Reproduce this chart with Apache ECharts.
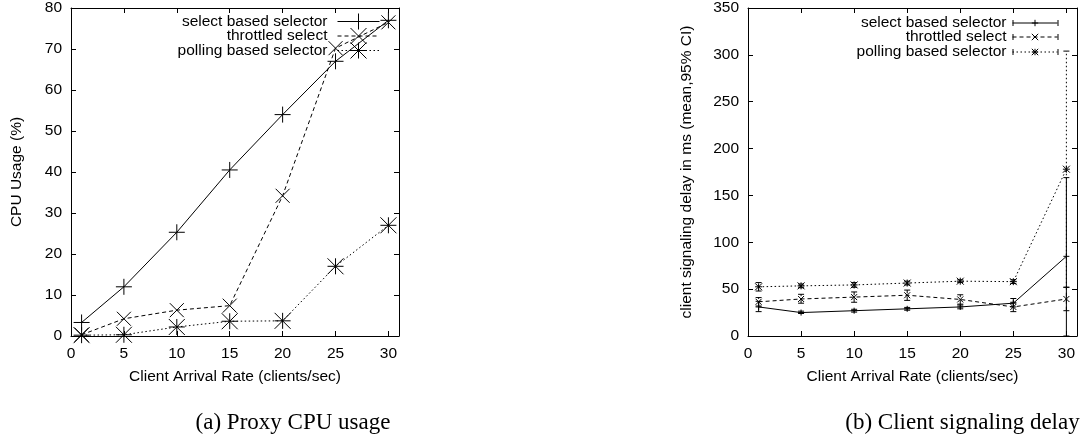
<!DOCTYPE html>
<html><head><meta charset="utf-8">
<script src="https://cdn.jsdelivr.net/npm/echarts@6/dist/echarts.min.js"></script>
<style>
html,body{margin:0;padding:0;background:#fff;width:1086px;height:438px;overflow:hidden;}
#a{position:absolute;left:0;top:0;width:543px;height:438px;}
#b{position:absolute;left:543px;top:0;width:543px;height:438px;}
</style>
</head><body><div id="a"></div><div id="b"></div>
<script>
// ---- data ----
const seriesNames = ['select based selector', 'throttled select', 'polling based selector'];
const xTicks = [0, 5, 10, 15, 20, 25, 30];
const cpuYTicks = [0, 10, 20, 30, 40, 50, 60, 70, 80];
const delayYTicks = [0, 50, 100, 150, 200, 250, 300, 350];

const cpuX = [1, 5, 10, 15, 20, 25, 30];
const cpuSelect = [3.3, 12, 25.3, 40.5, 54, 67, 77];
const cpuThrottled = [0.3, 4.2, 6.3, 7.4, 34.2, 70.2, 76.5];
const cpuPolling = [0.2, 0.3, 2.2, 3.6, 3.7, 17, 27];

const delayX = [1, 5, 10, 15, 20, 25, 30];
const delaySelect = [31, 25, 27, 29, 31, 35, 85];
const delaySelectLo = [26, 24, 25.5, 27.5, 29, 31, 0];
const delaySelectHi = [37, 26.5, 28.5, 30.5, 33, 40, 169];
const delayThrottled = [36.5, 39.5, 41.5, 43.5, 39, 31, 39.5];
const delayThrottledLo = [32, 35, 36, 38, 34, 26, 27];
const delayThrottledHi = [41, 44.5, 47, 49, 44, 36, 52];
const delayPolling = [52.5, 53.5, 54.5, 56.5, 58.5, 58, 178];
const delayPollingLo = [48, 51.5, 52, 54.5, 57, 56, 52];
const delayPollingHi = [57, 55.5, 57, 58.5, 60, 60, 304];

const captionA = '(a) Proxy CPU usage';
const captionB = '(b) Client signaling delay';
const xTitle = 'Client Arrival Rate (clients/sec)';
const yTitleA = 'CPU Usage (%)';
const yTitleB = 'client signaling delay in ms (mean,95% CI)';

// ---- styles ----
const FONT = '"Liberation Sans", Arial, Helvetica, sans-serif';
const SERIF = '"Liberation Serif", "Times New Roman", serif';
const FS = 15.5;
const PLUS = 'path://M1,0L1,2M0,1L2,1';
const CROSS = 'path://M0,0L2,2M0,2L2,0';
const STAR = 'path://M1,0L1,2M0,1L2,1M0,0L2,2M0,2L2,0';
const symbols = [PLUS, CROSS, STAR];
const dashes = ['solid', [4, 3], [1.5, 2.5]];

function axisSet(yMax, yInt, yTicks, yName, yGap) {
  const common = {
    type: 'value',
    axisLine: { onZero: false, lineStyle: { color: '#000', width: 1 } },
    splitLine: { show: false }
  };
  return {
    xAxis: [
      Object.assign({}, common, {
        min: 0, max: 31, position: 'bottom',
        name: xTitle, nameLocation: 'middle', nameGap: 33,
        nameTextStyle: { color: '#000', fontSize: FS, fontFamily: FONT },
        axisTick: { inside: true, length: 5, lineStyle: { color: '#000' }, customValues: xTicks },
        axisLabel: { color: '#000', fontSize: FS, fontFamily: FONT, margin: 10, customValues: xTicks }
      }),
      Object.assign({}, common, {
        min: 0, max: 31, position: 'top',
        axisTick: { inside: true, length: 5, lineStyle: { color: '#000' }, customValues: xTicks },
        axisLabel: { show: false }
      })
    ],
    yAxis: [
      Object.assign({}, common, {
        min: 0, max: yMax, interval: yInt, position: 'left',
        name: yName, nameLocation: 'middle', nameGap: yGap,
        nameTextStyle: { color: '#000', fontSize: FS, fontFamily: FONT },
        axisTick: { inside: true, length: 5, lineStyle: { color: '#000' }, customValues: yTicks },
        axisLabel: { color: '#000', fontSize: FS, fontFamily: FONT, margin: 9, customValues: yTicks }
      }),
      Object.assign({}, common, {
        min: 0, max: yMax, interval: yInt, position: 'right',
        axisTick: { inside: true, length: 5, lineStyle: { color: '#000' }, customValues: yTicks },
        axisLabel: { show: false }
      })
    ]
  };
}

function lineSeries(name, xs, ys, i, size) {
  return {
    type: 'line', name: name,
    data: xs.map((x, k) => [x, ys[k]]),
    xAxisIndex: 0, yAxisIndex: 0,
    symbol: symbols[i], symbolSize: size, showAllSymbol: true,
    lineStyle: { color: '#000', width: 1, type: dashes[i] },
    itemStyle: { color: 'rgba(0,0,0,0)', borderColor: '#000', borderWidth: 1 },
    emphasis: { disabled: true }, silent: true, z: 3
  };
}

function legends(rightOff, iconW, iconH, centers, textPad, topShift) {
  return seriesNames.map((n, i) => ({
    data: [n], orient: 'vertical', align: 'right', right: rightOff,
    top: centers[i] - topShift, itemWidth: iconW, itemHeight: iconH, padding: 0,
    selectedMode: false,
    textStyle: { color: '#000', fontSize: FS, fontFamily: FONT, padding: [0, textPad, 0, 0] },
    itemStyle: { borderWidth: 1, borderColor: '#000' },
    lineStyle: { width: 1, color: '#000', type: dashes[i] }
  }));
}

// ---- chart (a) ----
const chartA = echarts.init(document.getElementById('a'), null, { renderer: 'canvas' });
const axA = axisSet(80, 10, cpuYTicks, yTitleA, 46);
chartA.setOption({
  animation: false,
  backgroundColor: '#fff',
  grid: { left: 71, top: 8, width: 328, height: 328, containLabel: false },
  xAxis: axA.xAxis, yAxis: axA.yAxis,
  legend: legends(163, 42, 20, [23, 37.5, 52], 5, 10),
  series: [
    lineSeries(seriesNames[0], cpuX, cpuSelect, 0, 16),
    lineSeries(seriesNames[1], cpuX, cpuThrottled, 1, 14),
    lineSeries(seriesNames[2], cpuX, cpuPolling, 2, 16)
  ],
  graphic: [{
    type: 'text', x: 293, y: 423, silent: true,
    style: { text: captionA, fill: '#000', fontSize: 23, fontFamily: SERIF, align: 'center', verticalAlign: 'middle' }
  }]
});

// ---- chart (b) ----
function errSeries(name, xs, lo, hi, i) {
  return {
    type: 'custom', name: name + ' CI', xAxisIndex: 0, yAxisIndex: 0,
    data: xs.map((x, k) => [x, lo[k], hi[k]]),
    encode: { x: 0, y: [1, 2] }, silent: true, z: 2, clip: true,
    renderItem: function (params, api) {
      const x = api.value(0);
      const p1 = api.coord([x, api.value(1)]);
      const p2 = api.coord([x, api.value(2)]);
      const cap = 3;
      const dash = dashes[i] === 'solid' ? null : dashes[i];
      return {
        type: 'group', children: [
          { type: 'line', shape: { x1: p1[0], y1: p1[1], x2: p2[0], y2: p2[1] }, style: { stroke: '#000', lineWidth: 1, lineDash: dash } },
          { type: 'line', shape: { x1: p1[0] - cap, y1: p1[1], x2: p1[0] + cap, y2: p1[1] }, style: { stroke: '#000', lineWidth: 1 } },
          { type: 'line', shape: { x1: p2[0] - cap, y1: p2[1], x2: p2[0] + cap, y2: p2[1] }, style: { stroke: '#000', lineWidth: 1 } }
        ]
      };
    }
  };
}

const chartB = echarts.init(document.getElementById('b'), null, { renderer: 'canvas' });
const axB = axisSet(350, 50, delayYTicks, yTitleB, 53);
const legCentersB = [23, 37, 52];
const capGraphics = [];
legCentersB.forEach(c => {
  [470, 515].forEach(x => capGraphics.push({
    type: 'line', silent: true,
    shape: { x1: x, y1: c - 3, x2: x, y2: c + 3 },
    style: { stroke: '#000', lineWidth: 1 }
  }));
});
chartB.setOption({
  animation: false,
  backgroundColor: '#fff',
  grid: { left: 205, top: 8, width: 329, height: 328, containLabel: false },
  xAxis: axB.xAxis, yAxis: axB.yAxis,
  legend: legends(28, 45, 8, legCentersB, 1, 8),
  series: [
    lineSeries(seriesNames[0], delayX, delaySelect, 0, 6),
    lineSeries(seriesNames[1], delayX, delayThrottled, 1, 6),
    lineSeries(seriesNames[2], delayX, delayPolling, 2, 7),
    errSeries(seriesNames[0], delayX, delaySelectLo, delaySelectHi, 0),
    errSeries(seriesNames[1], delayX, delayThrottledLo, delayThrottledHi, 1),
    errSeries(seriesNames[2], delayX, delayPollingLo, delayPollingHi, 2)
  ],
  graphic: capGraphics.concat([{
    type: 'text', x: 419.5, y: 423, silent: true,
    style: { text: captionB, fill: '#000', fontSize: 23, fontFamily: SERIF, align: 'center', verticalAlign: 'middle' }
  }])
});
</script>
</body></html>
